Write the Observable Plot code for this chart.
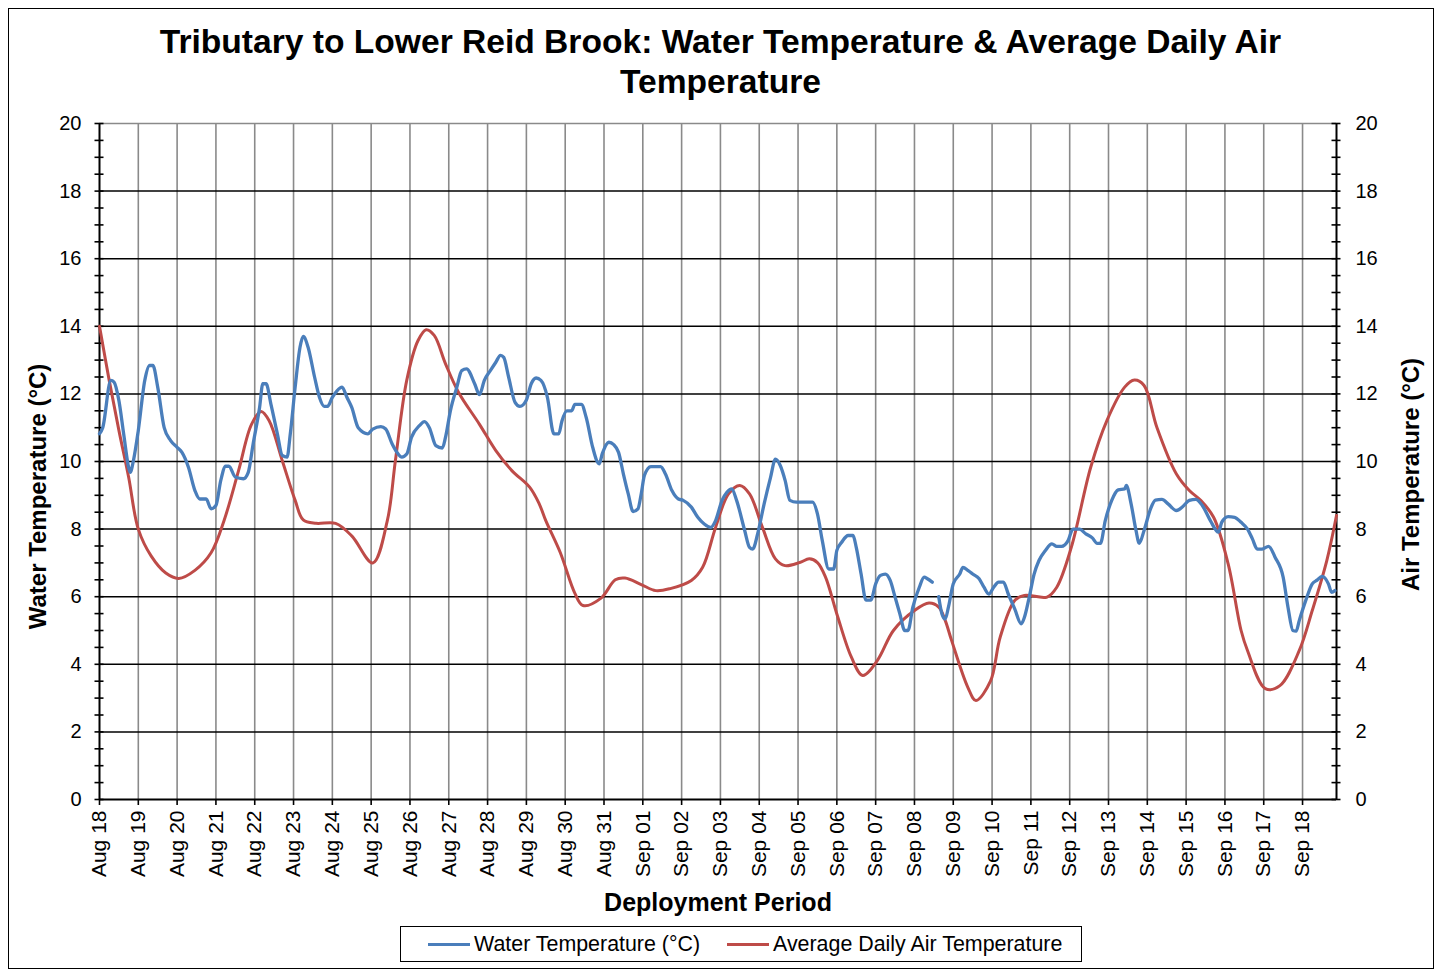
<!DOCTYPE html>
<html>
<head>
<meta charset="utf-8">
<script src="https://cdn.jsdelivr.net/npm/d3@7"></script>
<script src="https://cdn.jsdelivr.net/npm/@observablehq/plot@0.6"></script>
<style>
  body { margin: 0; background: #fff; font-family: "Liberation Sans", Arial, sans-serif; }
  #wrap { position: relative; width: 1437px; height: 970px; overflow: hidden; background: #fff; }
  #chart { position: absolute; left: 0; top: 0; }
  #frame { position: absolute; left: 8px; top: 8px; width: 1426px; height: 961px; border: 1.5px solid #000; box-sizing: border-box; pointer-events: none; }
  #title { position: absolute; left: 0; top: 22px; width: 1441px; text-align: center; font-weight: bold; font-size: 33.6px; line-height: 40px; color: #000; }
  #legend { position: absolute; left: 400px; top: 926px; width: 682px; height: 36px; border: 1.5px solid #000; box-sizing: border-box; font-size: 21.4px; }
  #legend .swatch { position: absolute; top: 16px; width: 42px; height: 3px; }
  #legend .lab { position: absolute; top: 5px; white-space: nowrap; line-height: 24px; }
</style>
</head>
<body>
<div id="wrap">
  <div id="chart"></div>
  <div id="title">Tributary to Lower Reid Brook: Water Temperature &amp; Average Daily Air<br>Temperature</div>
  <div id="legend">
    <div class="swatch" style="left:27px;background:#4A7EBB"></div>
    <div class="lab" style="left:73px">Water Temperature (°C)</div>
    <div class="swatch" style="left:326px;background:#BE4B48"></div>
    <div class="lab" style="left:372px">Average Daily Air Temperature</div>
  </div>
  <div id="frame"></div>
</div>
<script>
// Logger deployment start; readings are given as hours since this moment.
const deploymentStart = Date.UTC(2013, 7, 18);
const deploymentHours = 765;

// Water temperature readings: [hours since start, °C]; null marks a gap in the record.
const waterReadings = [
  [0,10.82],[2,11.0],[7,12.4],[9,12.35],[12,11.8],[15,10.8],[18,9.83],[19,9.68],[21,10.03],[24,10.92],
  [28,12.4],[31,12.84],[33,12.84],[36,12.2],[40,11.0],[44,10.62],[48,10.42],[51,10.27],[55,9.83],[59,9.14],
  [62,8.89],[66,8.89],[69,8.6],[72,8.7],[75,9.44],[78,9.86],[80,9.86],[84,9.54],[89,9.49],[92,9.68],
  [95,10.52],[99,11.6],[101,12.3],[103,12.3],[106,11.7],[110,10.82],[113,10.18],[116,10.13],[118,10.82],[121,12.2],
  [124,13.38],[126,13.7],[129,13.38],[133,12.5],[136,11.9],[139,11.63],[141,11.63],[144,11.9],[147,12.1],[150,12.2],
  [153,11.9],[156,11.6],[160,11.0],[166,10.82],[169,10.96],[174,11.03],[177,10.96],[181,10.52],[184,10.27],[187,10.13],
  [190,10.22],[193,10.72],[198,11.07],[201,11.18],[204,11.0],[208,10.47],[212,10.4],[214,10.72],[217,11.5],[221,12.2],
  [224,12.69],[227,12.74],[232,12.3],[235,11.98],[238,12.4],[242,12.71],[245,12.93],[248,13.14],[250,13.08],[253,12.5],
  [257,11.75],[260,11.63],[264,11.82],[267,12.3],[270,12.47],[273,12.4],[277,11.9],[281,10.82],[284,10.82],[286,11.2],
  [289,11.5],[292,11.5],[294,11.69],[298,11.69],[301,11.3],[305,10.42],[309,9.93],[311,10.24],[315,10.57],[318,10.5],
  [321,10.27],[324,9.63],[327,9.04],[330,8.52],[333,8.6],[335,9.04],[337,9.59],[341,9.85],[347,9.85],[350,9.63],
  [354,9.14],[358,8.89],[361,8.85],[366,8.65],[370,8.35],[374,8.15],[378,8.05],[381,8.25],[385,8.85],[388,9.09],
  [391,9.19],[394,8.85],[399,7.96],[402,7.46],[404,7.41],[407,7.86],[411,8.74],[415,9.53],[418,10.07],[421,9.88],
  [424,9.44],[427,8.85],[431,8.8],[441,8.8],[444,8.45],[447,7.66],[451,6.82],[454,6.82],[456,7.37],[459,7.61],
  [463,7.81],[466,7.81],[468,7.46],[471,6.67],[474,5.9],[477,5.9],[480,6.38],[483,6.63],[486,6.67],[489,6.48],
  [492,5.99],[495,5.49],[498,5.0],[500,5.0],[503,5.69],[507,6.28],[510,6.58],[512,6.53],[515,6.43],[517,null],
  [519,6.0],[521,5.49],[523,5.34],[525,5.69],[528,6.38],[532,6.67],[534,6.87],[537,6.78],[540,6.67],[544,6.53],
  [547,6.28],[550,6.08],[553,6.28],[556,6.43],[559,6.43],[562,6.08],[566,5.64],[570,5.2],[572,5.39],[575,5.99],
  [578,6.67],[581,7.07],[585,7.37],[589,7.56],[592,7.49],[595,7.49],[599,7.66],[602,8.0],[606,8.0],[610,7.86],
  [614,7.74],[617,7.58],[619,7.58],[622,8.25],[626,8.85],[630,9.16],[634,9.19],[635,9.29],[638,8.74],[641,7.96],
  [643,7.58],[646,7.96],[650,8.6],[653,8.86],[657,8.88],[661,8.74],[666,8.55],[670,8.67],[674,8.85],[678,8.88],
  [682,8.7],[687,8.25],[692,7.91],[694,8.2],[698,8.37],[702,8.35],[706,8.2],[710,8.0],[713,7.71],[716,7.41],
  [719,7.41],[723,7.49],[727,7.17],[732,6.58],[735,5.69],[738,5.0],[740,4.98],[742,5.3],[746,5.89],[750,6.38],
  [753,6.49],[756,6.6],[760,6.38],[762,6.13],[764,6.18]
];

// Average daily air temperature (smoothed): [hours since start, °C].
const airReadings = [
  [0,14.0],[6,12.4],[12,10.92],[18,9.54],[24,8.0],[32,7.2],[41,6.7],[49,6.54],[59,6.78],[69,7.3],
  [77,8.25],[86,9.73],[94,11.1],[100,11.48],[105,11.2],[113,10.03],[121,8.85],[126,8.27],[134,8.17],[146,8.17],
  [156,7.8],[169,7.0],[178,8.25],[183,10.03],[190,12.4],[197,13.58],[202,13.9],[207,13.73],[214,12.89],[222,12.05],
  [235,11.1],[245,10.33],[255,9.73],[266,9.24],[272,8.74],[276,8.25],[285,7.3],[294,6.1],[299,5.74],[310,5.95],
  [319,6.5],[325,6.55],[335,6.36],[344,6.18],[353,6.24],[366,6.48],[373,6.87],[381,8.05],[389,9.04],[396,9.29],
  [402,9.04],[410,8.05],[418,7.12],[424,6.92],[433,7.01],[439,7.12],[444,7.01],[449,6.58],[456,5.49],[465,4.21],
  [472,3.67],[481,4.11],[491,5.0],[504,5.59],[513,5.81],[519,5.69],[523,5.3],[527,4.7],[537,3.32],[542,2.93],
  [551,3.5],[557,4.8],[566,5.89],[572,6.04],[586,5.99],[592,6.28],[601,7.46],[613,9.83],[623,11.21],[634,12.2],
  [640,12.41],[646,12.25],[654,11.0],[666,9.63],[674,9.14],[681,8.85],[689,8.35],[698,6.97],[706,5.0],[710,4.4],
  [721,3.28],[730,3.37],[742,4.41],[750,5.59],[759,7.07],[765,8.4]
];

const yMajor = d3.range(0, 21, 2);
const yMinor = d3.range(0, 20.01, 0.5);

const hourToDate = h => new Date(deploymentStart + h * 3600e3);
const water = waterReadings.map(([h, v]) => ({date: hourToDate(h), temp: v}));
const air = airReadings.map(([h, v]) => ({date: hourToDate(h), temp: v}));
const xEnd = hourToDate(deploymentHours);
const dayTicks = d3.utcDay.range(new Date(deploymentStart), xEnd);

const W = 1437, H = 970;
const mL = 99, mR = 101, mT = 123, mB = 171;
const plotW = W - mL - mR;

const chart = Plot.plot({
  width: W,
  height: H,
  marginLeft: mL,
  marginRight: mR,
  marginTop: mT,
  marginBottom: mB,
  style: {fontFamily: '"Liberation Sans", Arial, sans-serif', fontSize: "20px", color: "#000", background: "transparent", overflow: "visible"},
  x: {type: "utc", domain: [new Date(deploymentStart), xEnd]},
  y: {domain: [0, 20]},
  marks: [
    // grid: grey day lines, black 2° lines, grey top edge
    Plot.ruleX(dayTicks.slice(1), {stroke: "#8a8a8a", strokeWidth: 1.6}),
    Plot.ruleY(yMajor.filter(d => d > 0 && d < 20), {stroke: "#000", strokeWidth: 1.5}),
    Plot.ruleY([20], {stroke: "#8a8a8a", strokeWidth: 1.6}),
    // axis lines
    Plot.ruleY([0], {stroke: "#000", strokeWidth: 2}),
    Plot.ruleX([new Date(deploymentStart)], {stroke: "#000", strokeWidth: 2}),
    Plot.ruleX([xEnd], {stroke: "#000", strokeWidth: 2}),
    // crossing tick marks on both value axes
    Plot.tickY(yMinor, {stroke: "#000", strokeWidth: 1.6, insetRight: plotW - 9, dx: -4.5}),
    Plot.tickY(yMinor, {stroke: "#000", strokeWidth: 1.6, insetLeft: plotW - 9, dx: 4.5}),
    Plot.axisY({anchor: "left", ticks: yMajor, tickSize: 0, tickPadding: 18, label: null}),
    Plot.axisY({anchor: "right", ticks: yMajor, tickSize: 0, tickPadding: 19, label: null}),
    Plot.axisX({ticks: dayTicks, tickFormat: d3.utcFormat("%b %d"), tickRotate: -90, tickSize: 6, tickPadding: 5, strokeWidth: 1.6, fontSize: 21, label: null}),
    // series
    Plot.lineY(air, {x: "date", y: "temp", stroke: "#BE4B48", strokeWidth: 3, curve: "catmull-rom"}),
    Plot.lineY(water, {x: "date", y: "temp", stroke: "#4A7EBB", strokeWidth: 3.3, curve: "monotone-x"}),
    // axis titles
    Plot.text(["Water Temperature (°C)"], {frameAnchor: "left", textAnchor: "middle", dx: -61, dy: 35, rotate: -90, fontWeight: "bold", fontSize: 24, fill: "#000"}),
    Plot.text(["Air Temperature (°C)"], {frameAnchor: "right", textAnchor: "middle", dx: 75, dy: 13, rotate: -90, fontWeight: "bold", fontSize: 24, fill: "#000"}),
    Plot.text(["Deployment Period"], {frameAnchor: "bottom", dy: 111, fontWeight: "bold", fontSize: 25, fill: "#000"})
  ]
});
document.getElementById("chart").appendChild(chart);
</script>
</body>
</html>
